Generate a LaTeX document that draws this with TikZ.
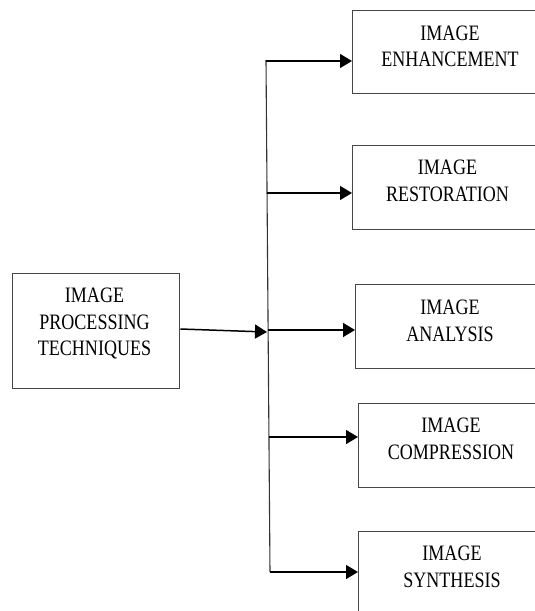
\documentclass[tikz,border=0pt]{standalone}
\usepackage{fontspec}
\setmainfont{Liberation Serif}[FakeStretch=0.82]
\usetikzlibrary{arrows.meta}
\begin{document}
\begin{tikzpicture}[x=1pt,y=-1pt,
  box/.style={draw=black!72, line width=1.3pt, rectangle, inner sep=0pt, anchor=north west},
  lbl/.style={align=center, inner sep=0pt, font=\fontsize{22}{26.5}\selectfont, text=black},
  conn/.style={line width=1.5pt, -{Triangle[length=12pt,width=14pt]}},
  trunk/.style={line width=1.1pt, draw=black!80}]
\useasboundingbox (0,0) rectangle (535,611);
\clip (0,0) rectangle (535,611);
\fill[white] (0,0) rectangle (535,611);
% boxes
\node[box, minimum width=167pt, minimum height=115pt] (src) at (12,273) {};
\node[box, minimum width=200pt, minimum height=83pt] (b1) at (352,10) {};
\node[box, minimum width=200pt, minimum height=84pt] (b2) at (352,145) {};
\node[box, minimum width=200pt, minimum height=84pt] (b3) at (355,284) {};
\node[box, minimum width=200pt, minimum height=84pt] (b4) at (358,403) {};
\node[box, minimum width=200pt, minimum height=100pt] (b5) at (358,531) {};
% labels
\node[lbl] (tsrc) at (94.5,323.5) {IMAGE\\PROCESSING\\TECHNIQUES};
\node[lbl] (t1) at (450,46.5) {IMAGE\\ENHANCEMENT};
\node[lbl] (t2) at (447.5,181) {IMAGE\\RESTORATION};
\node[lbl] (t3) at (450,321) {IMAGE\\ANALYSIS};
\node[lbl] (t4) at (451,439) {IMAGE\\COMPRESSION};
\node[lbl] (t5) at (452,567) {IMAGE\\SYNTHESIS};
% trunk
\coordinate (top) at (266,60);
\coordinate (bot) at (270,572);
\draw[trunk] (top) -- (bot);
\coordinate (j1) at (266,61);
\coordinate (j2) at (266.8,193);
\coordinate (j3) at (267.6,330);
\coordinate (j4) at (268.5,437);
\coordinate (j5) at (270,572);
% connectors
\draw[conn] (src.east |- 0,329) -- (267,332);
\draw[conn] (j1) -- (j1 -| b1.west);
\draw[conn] (j2) -- (j2 -| b2.west);
\draw[conn] (j3) -- (j3 -| b3.west);
\draw[conn] (j4) -- (j4 -| b4.west);
\draw[conn] (j5) -- (j5 -| b5.west);
\end{tikzpicture}
\end{document}
